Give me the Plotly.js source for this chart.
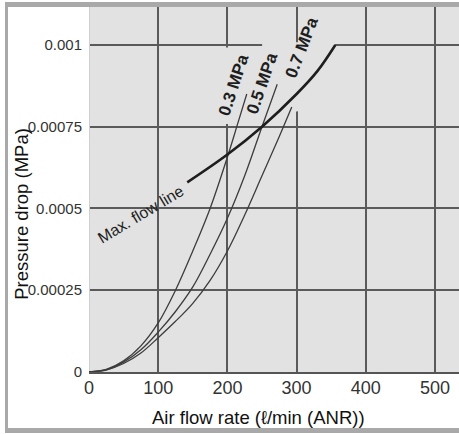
<!DOCTYPE html>
<html>
<head>
<meta charset="utf-8">
<script src="https://cdn.plot.ly/plotly-3.0.1.min.js"></script>
<style>
  html, body { margin: 0; padding: 0; background: #ffffff; }
  #wrap { position: relative; width: 459px; height: 434px; overflow: hidden; }
  #plot { position: absolute; left: 0; top: 0; width: 459px; height: 434px; }
  #frame { position: absolute; left: 5px; top: 2px; width: 454px; height: 431px;
           border-left: 3px solid #a9a9a9; border-top: 5px solid #a9a9a9; border-bottom: 5px solid #a9a9a9;
           box-sizing: border-box; pointer-events: none; }
</style>
</head>
<body>
<div id="wrap"><div id="plot"></div><div id="frame"></div></div>
<script>
// Air flow rate (l/min ANR) vs pressure drop (MPa)
const flow03 = [0, 25, 50, 75, 100, 125, 150, 175, 200, 215, 228];
const drop03 = [0, 0.000008, 0.000034, 0.00008, 0.00015, 0.00025, 0.00037, 0.0005, 0.000657, 0.00076, 0.00085];

const flow05 = [0, 25, 50, 75, 100, 125, 150, 175, 200, 225, 250, 272];
const drop05 = [0, 0.000007, 0.00003, 0.000068, 0.000122, 0.000185, 0.00026, 0.00036, 0.00047, 0.0006, 0.00075, 0.00088];

const flow07 = [0, 25, 50, 75, 100, 125, 150, 175, 200, 225, 250, 275, 293];
const drop07 = [0, 0.000006, 0.000026, 0.000058, 0.000105, 0.000155, 0.00021, 0.00028, 0.00037, 0.00048, 0.0006, 0.00072, 0.00081];

const flowMax = [142, 200, 250, 300, 330, 356];
const dropMax = [0.00058, 0.000665, 0.00075, 0.00085, 0.00092, 0.001];

const xTicks = [0, 100, 200, 300, 400, 500];
const yTickVals = [0, 0.00025, 0.0005, 0.00075, 0.001];
const yTickText = ['0', '0.00025', '0.0005', '0.00075', '0.001'];

const curveLabels = ['0.3 MPa', '0.5 MPa', '0.7 MPa'];
const labelX = [209.7, 249.8, 307.5];
const labelY = [0.000878, 0.000883, 0.000992];
const labelAngle = [-72, -71, -69];

const FONT = 'Liberation Sans, Arial, Helvetica, sans-serif';
const curveStyle = {color: '#3c3c3c', width: 1.3, shape: 'spline', smoothing: 1};

const traces = [
  {x: flow03, y: drop03, mode: 'lines', line: curveStyle, name: '0.3 MPa', hoverinfo: 'x+y'},
  {x: flow05, y: drop05, mode: 'lines', line: curveStyle, name: '0.5 MPa', hoverinfo: 'x+y'},
  {x: flow07, y: drop07, mode: 'lines', line: curveStyle, name: '0.7 MPa', hoverinfo: 'x+y'},
  {x: flowMax, y: dropMax, mode: 'lines', line: {color: '#1e1e1e', width: 2.6, shape: 'spline', smoothing: 1}, name: 'Max. flow line', hoverinfo: 'x+y'}
];

const annotations = curveLabels.map((t, i) => ({
  x: labelX[i], y: labelY[i], xref: 'x', yref: 'y', text: '<b>' + t + '</b>',
  showarrow: false, textangle: labelAngle[i], xanchor: 'center', yanchor: 'middle',
  font: {family: FONT, size: 17, color: '#1e1e1e'}
}));
annotations.push({
  x: 74, y: 0.000483, xref: 'x', yref: 'y', text: 'Max. flow line', showarrow: false,
  textangle: -31, xanchor: 'center', yanchor: 'middle',
  font: {family: FONT, size: 16, color: '#1e1e1e'}
});
annotations.push({
  x: 0.4585, y: -0.1233, xref: 'paper', yref: 'paper', text: 'Air flow rate (ℓ/min (ANR))',
  showarrow: false, xanchor: 'center', yanchor: 'middle',
  font: {family: FONT, size: 18.5, color: '#111111'}
});
annotations.push({
  x: -0.1816, y: 0.4329, xref: 'paper', yref: 'paper', text: 'Pressure drop (MPa)',
  showarrow: false, textangle: -90, xanchor: 'center', yanchor: 'middle',
  font: {family: FONT, size: 18.5, color: '#111111'}
});

const layout = {
  width: 459, height: 434,
  margin: {l: 88.75, r: 0, t: 7, b: 62, pad: 0},
  paper_bgcolor: '#ffffff',
  plot_bgcolor: '#e2e2e2',
  showlegend: false,
  xaxis: {
    range: [0, 534.7], tickvals: xTicks, ticks: '', showgrid: true,
    gridcolor: '#5a5a5a', gridwidth: 2,
    zeroline: true, zerolinecolor: '#cfcfcf', zerolinewidth: 1,
    showline: true, linecolor: '#555555', linewidth: 2,
    ticklabelstandoff: -2,
    tickfont: {family: FONT, size: 18, color: '#333333'}
  },
  yaxis: {
    range: [0, 0.001116], tickvals: yTickVals, ticktext: yTickText, ticks: '',
    showgrid: true, gridcolor: '#5a5a5a', gridwidth: 2,
    zeroline: false, showline: false,
    ticklabelstandoff: 6,
    tickfont: {family: FONT, size: 15, color: '#333333'}
  },
  shapes: [{
    type: 'path', xref: 'x', yref: 'y', layer: 'between',
    path: 'M192.4,0.000758 L192.4,0.000992 L250.2,0.000992 L250.2,0.001008 L357,0.001008 L309.4,0.000801 L290.6,0.000792 L250.2,0.000758 Z',
    fillcolor: '#e2e2e2', line: {width: 0}
  }],
  annotations: annotations
};

Plotly.newPlot('plot', traces, layout, {displayModeBar: false, staticPlot: true});
</script>
</body>
</html>
